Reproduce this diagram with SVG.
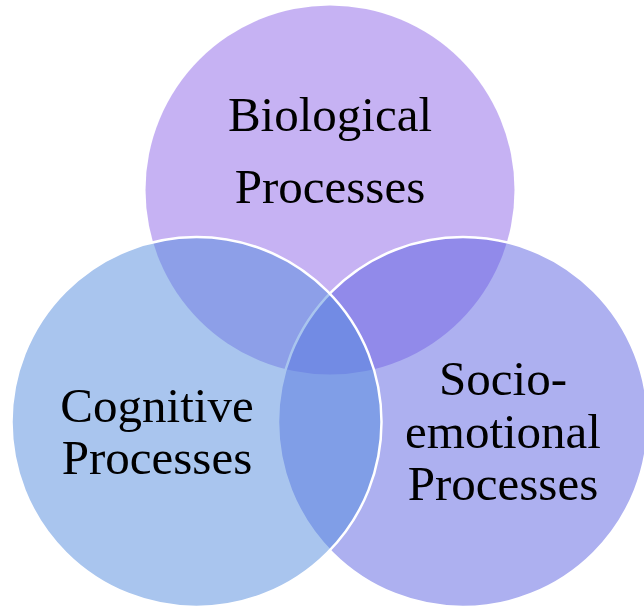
<svg xmlns="http://www.w3.org/2000/svg" width="644" height="607" viewBox="0 0 644 607">
<style>
.c{stroke:#FFFFFF;stroke-width:2.5;fill-opacity:0.5}
.t{font-family:"Liberation Serif","Times New Roman",serif;font-size:49px;fill:#000000;text-anchor:middle}
</style>
<rect width="644" height="607" fill="#FFFFFF"/>
<g id="biological">
<circle cx="330" cy="190" r="184.5" fill="#8D65E7" fill-opacity="0.5"/>
</g>
<g id="socioemotional">
<circle class="c" cx="463" cy="422" r="185" fill="#5B61E1"/>
</g>
<g id="cognitive">
<circle class="c" cx="196.5" cy="422" r="185" fill="#538BDD"/>
</g>
<g id="labels">
<text class="t" x="330" y="131">Biological</text>
<text class="t" x="330" y="203">Processes</text>
<text class="t" x="157" y="422">Cognitive</text>
<text class="t" x="157" y="474">Processes</text>
<text class="t" x="503" y="395">Socio-</text>
<text class="t" x="503" y="448">emotional</text>
<text class="t" x="503" y="500">Processes</text>
</g>
<g id="connectors"></g>
</svg>
